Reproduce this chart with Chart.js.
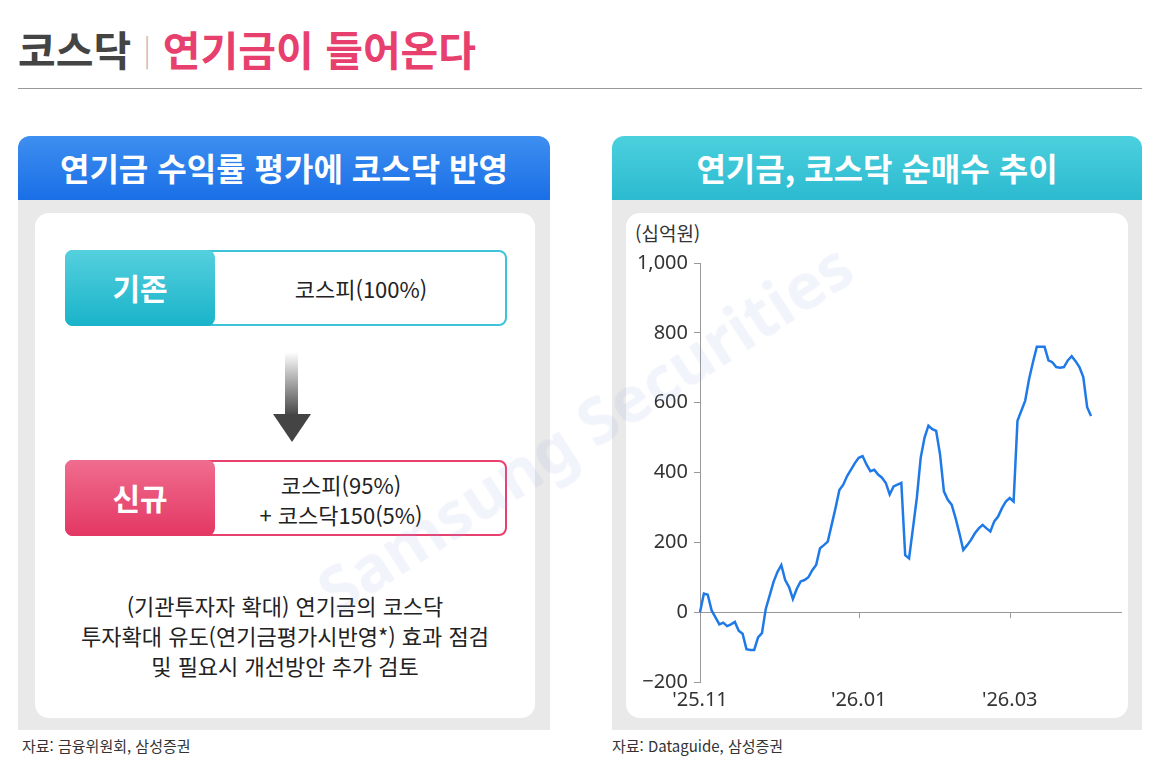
<!DOCTYPE html>
<html lang="ko">
<head>
<meta charset="UTF-8">
<title>코스닥 | 연기금이 들어온다</title>
<script src="https://cdn.jsdelivr.net/npm/chart.js"></script>
<style>
    body { margin: 0; width: 1152px; height: 779px; background: #fff; font-family: 'Noto Sans CJK KR', 'Noto Sans', sans-serif; position: relative; overflow: hidden; color: #222; }
    .abs { position: absolute; }
    .title { left: 18px; top: 18px; font-size: 41px; font-weight: 700; color: #444; }
    .title .sep { color: #bbb; font-weight: 300; margin: 0 12px; font-size: 30px; position: relative; top: -5px; }
    .title .pink { color: #e8406e; }
    .rule { left: 18px; top: 88px; width: 1124px; height: 1px; background: #999; }
    .panel { top: 200px; height: 530px; background: #e9e9e9; }
    .head { top: 136px; height: 64px; border-radius: 12px 12px 0 0; color: #fff; font-size: 32px; font-weight: 700; text-align: center; line-height: 62px; }
    .inner { background: #fff; border-radius: 14px; top: 213px; height: 505px; }
    .box { height: 72px; border: 2px solid; border-radius: 8px; background: #fff; }
    .tag { left: -2px; top: -2px; width: 150px; height: 76px; border-radius: 8px; color: #fff; font-size: 30px; font-weight: 700; text-align: center; line-height: 74px; }
    .src { top: 735px; font-size: 15px; color: #333; }
    .wm { left: 300px; top: 560px; font-size: 64px; font-weight: 700; color: rgba(150,165,230,0.12); transform: rotate(-33deg); transform-origin: 0 0; white-space: nowrap; font-family: 'Noto Sans', sans-serif; }
</style>
</head>
<body>
<div class="abs title">코스닥<span class="sep">|</span><span class="pink">연기금이 들어온다</span></div>
<div class="abs rule"></div>

<div class="abs head" style="left:18px;width:532px;background:linear-gradient(#3d8ff0,#1a6fe6);">연기금 수익률 평가에 코스닥 반영</div>
<div class="abs panel" style="left:18px;width:532px;"></div>
<div class="abs inner" style="left:35px;width:500px;"></div>

<div class="abs box" style="left:65px;top:250px;width:438px;border-color:#3cc5d8;">
    <div class="abs tag" style="background:linear-gradient(#55d0de,#19b3c9);">기존</div>
    <div class="abs" style="left:150px;width:288px;top:0;line-height:72px;text-align:center;font-size:22px;">코스피(100%)</div>
</div>
<div class="abs" style="left:285px;top:352px;width:13px;height:64px;background:linear-gradient(#fff,#444);"></div>
<div class="abs" style="left:273px;top:414px;width:0;height:0;border-left:19px solid transparent;border-right:19px solid transparent;border-top:28px solid #444;"></div>
<div class="abs box" style="left:65px;top:460px;width:438px;border-color:#e8406e;">
    <div class="abs tag" style="background:linear-gradient(#f06d8f,#e33763);">신규</div>
    <div class="abs" style="left:130px;width:288px;top:7px;line-height:30px;text-align:center;font-size:22px;">코스피(95%)<br>+ 코스닥150(5%)</div>
</div>
<div class="abs" style="left:35px;width:500px;top:590px;text-align:center;font-size:22px;line-height:30px;">(기관투자자 확대) 연기금의 코스닥<br>투자확대 유도(연기금평가시반영*) 효과 점검<br>및 필요시 개선방안 추가 검토</div>
<div class="abs src" style="left:22px;">자료: 금융위원회, 삼성증권</div>

<div class="abs head" style="left:612px;width:530px;background:linear-gradient(#4cd0de,#2cbad0);">연기금, 코스닥 순매수 추이</div>
<div class="abs panel" style="left:612px;width:530px;"></div>
<div class="abs inner" style="left:626px;width:502px;"></div>
<div class="abs" style="left:635px;top:219px;font-size:19px;color:#333;">(십억원)</div>
<div class="abs" style="left:626px;top:245px;width:502px;height:473px;"><canvas id="c"></canvas></div>
<div class="abs src" style="left:612px;">자료: Dataguide, 삼성증권</div>
<div class="abs wm">Samsung Securities</div>

<script>
const netBuy = [0, 53, 50, 5, -15, -35, -30, -40, -35, -28, -53, -62, -106, -108, -108, -72, -60, 10, 48, 87,
    115, 135, 92, 72, 38, 67, 88, 92, 100, 120, 135, 183, 192, 202, 250, 298, 350, 365, 390, 408,
    427, 442, 447, 423, 404, 408, 394, 385, 370, 337, 360, 365, 370, 163, 154, 240, 327, 442, 500, 534,
    524, 519, 452, 346, 322, 308, 270, 226, 178, 192, 207, 226, 240, 250, 240, 231, 260, 274, 298, 317,
    327, 317, 548, 577, 606, 668, 716, 760, 760, 760, 721, 716, 702, 700, 702, 721, 733, 719, 702, 673,
    587, 562];
const axisLength = 110;
const monthTicks = { 0: "'25.11", 41: "'26.01", 80: "'26.03" };
const yTicks = [-200, 0, 200, 400, 600, 800, 1000];

const labels = [];
for (let i = 0; i < axisLength; i++) labels.push(monthTicks[i] || '');

const monthMarks = {
    id: 'monthMarks',
    afterDraw(chart) {
        const { ctx, scales: { x, y } } = chart;
        const y0 = y.getPixelForValue(0);
        ctx.save();
        ctx.strokeStyle = '#999';
        ctx.lineWidth = 1;
        Object.keys(monthTicks).forEach(k => {
            if (+k === 0) return;
            const px = Math.round(x.getPixelForValue(+k)) + 0.5;
            ctx.beginPath();
            ctx.moveTo(px, y0);
            ctx.lineTo(px, y0 + 6);
            ctx.stroke();
        });
        ctx.restore();
    }
};

new Chart(document.getElementById('c'), {
    type: 'line',
    data: {
        labels: labels,
        datasets: [{
            data: netBuy,
            borderColor: '#1f7ae8',
            borderWidth: 2.5,
            pointRadius: 0,
            tension: 0
        }]
    },
    options: {
        responsive: true,
        maintainAspectRatio: false,
        animation: false,
        layout: { padding: { left: 0, right: 6, top: 8, bottom: 0 } },
        plugins: { legend: { display: false }, tooltip: { enabled: false } },
        scales: {
            x: {
                offset: false,
                grid: { display: false, drawTicks: false },
                border: { display: false },
                ticks: { autoSkip: false, maxRotation: 0, color: '#333', font: { size: 20, family: 'Noto Sans' }, padding: 6 }
            },
            y: {
                min: -200, max: 1000,
                afterBuildTicks: s => { s.ticks = yTicks.map(v => ({ value: v })); },
                grid: {
                    color: c => c.tick && c.tick.value === 0 ? '#999' : 'rgba(0,0,0,0)',
                    tickColor: '#999', tickLength: 6, drawTicks: true
                },
                border: { display: true, color: '#999' },
                ticks: {
                    color: '#333', font: { size: 20, family: 'Noto Sans' }, padding: 6,
                    callback: v => v < 0 ? '\u2212' + Math.abs(v) : v.toLocaleString('en-US')
                },
                afterFit: s => { s.width = 74; }
            }
        }
    },
    plugins: [monthMarks]
});
</script>
</body>
</html>
